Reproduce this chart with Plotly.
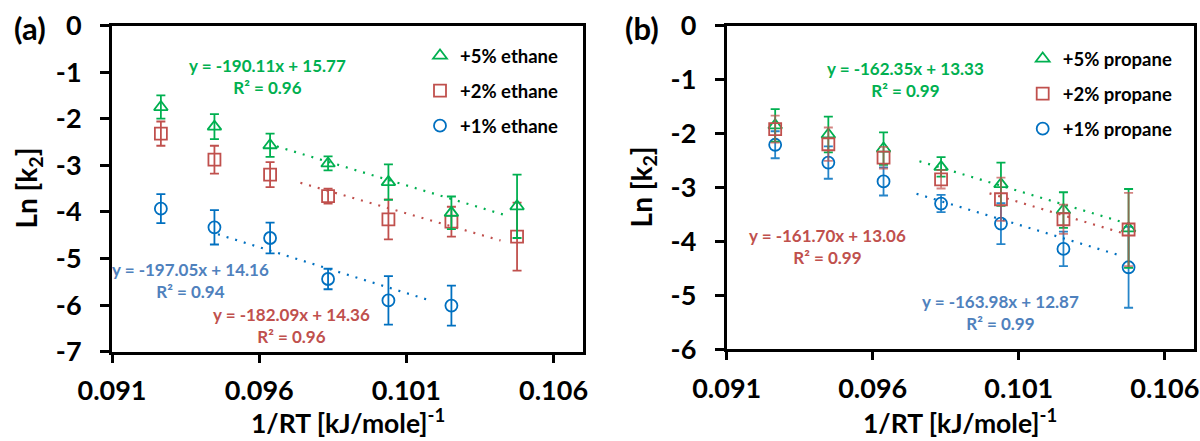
import plotly.graph_objects as go

FONT = "Lato, 'Open Sans', 'DejaVu Sans', sans-serif"
W, H = 1200, 441

GREEN = "#00B050"
RED = "#C0504D"
BLUE = "#0070C0"
BLUE_TXT = "#4F81BD"

# ---------------- data ----------------
inv_RT = [0.09266, 0.09448, 0.09637, 0.09834, 0.10039, 0.10253, 0.10476]

# panel (a) ethane
eth_labels = ["+5% ethane", "+2% ethane", "+1% ethane"]
eth5 = [-1.75, -2.17, -2.57, -2.96, -3.36, -4.02, -3.88]
eth5_err = [0.25, 0.27, 0.25, 0.15, 0.38, 0.35, 0.68]
eth2 = [-2.32, -2.88, -3.20, -3.66, -4.16, -4.21, -4.53]
eth2_err = [0.26, 0.30, 0.27, 0.16, 0.43, 0.32, 0.73]
eth1 = [-3.93, -4.33, -4.56, -5.44, -5.90, -6.01]
eth1_err = [0.31, 0.37, 0.33, 0.22, 0.52, 0.43]
eth_slope = [-190.11, -182.09, -197.05]
eth_icpt = [15.77, 14.36, 14.16]
eth_r2 = [0.96, 0.96, 0.94]
eth_fit_x = [[0.0966, 0.1043], [0.0974, 0.1042], [0.0946, 0.1018]]

# panel (b) propane
prop_labels = ["+5% propane", "+2% propane", "+1% propane"]
prop5 = [-1.85, -2.02, -2.28, -2.62, -2.94, -3.42, -3.76]
prop5_err = [0.30, 0.33, 0.30, 0.18, 0.40, 0.33, 0.73]
prop2 = [-1.92, -2.20, -2.45, -2.85, -3.22, -3.59, -3.78]
prop2_err = [0.25, 0.31, 0.20, 0.17, 0.40, 0.27, 0.68]
prop1 = [-2.21, -2.54, -2.89, -3.30, -3.67, -4.14, -4.48]
prop1_err = [0.25, 0.30, 0.26, 0.16, 0.38, 0.32, 0.75]
prop_slope = [-162.35, -161.70, -163.98]
prop_icpt = [13.33, 13.06, 12.87]
prop_r2 = [0.99, 0.99, 0.99]
prop_fit_x = [[0.0976, 0.1046], [0.1000, 0.1045], [0.0975, 0.1044]]

x_tickvals = [0.091, 0.096, 0.101, 0.106]
x_ticktext = ["0.091", "0.096", "0.101", "0.106"]
ya_tickvals = [0, -1, -2, -3, -4, -5, -6, -7]
ya_ticktext = ["0", "-1", "-2", "-3", "-4", "-5", "-6", "-7"]
yb_tickvals = [0, -1, -2, -3, -4, -5, -6]
yb_ticktext = ["0", "-1", "-2", "-3", "-4", "-5", "-6"]

# ---------------- helpers ----------------
def px(x):
    return x / W

def py(y):
    return 1 - y / H

fig = go.Figure()


def add_fit(xr, slope, icpt, color, xa, ya):
    fig.add_trace(go.Scatter(
        x=xr, y=[slope * v + icpt for v in xr], mode="lines",
        line=dict(color=color, width=2.2, dash="2px,7px"),
        showlegend=False, hoverinfo="skip", xaxis=xa, yaxis=ya))


def add_series(y, err, name, symbol, color, err_color, xa, ya, legend, rank):
    fig.add_trace(go.Scatter(
        x=inv_RT[:len(y)], y=y, mode="markers", name=name,
        marker=dict(symbol=symbol, size=12, color=color,
                    line=dict(color=color, width=1.8)),
        error_y=dict(type="data", array=err, visible=True, color=err_color,
                     thickness=1.8, width=4.5),
        xaxis=xa, yaxis=ya, legend=legend, legendgroup=name + legend,
        legendrank=rank))


# panel (a)
fit_cols = [GREEN, RED, BLUE]
for i in range(3):
    add_fit(eth_fit_x[i], eth_slope[i], eth_icpt[i], fit_cols[i], "x", "y")
add_series(eth1, eth1_err, eth_labels[2], "circle-open", BLUE, BLUE, "x", "y", "legend", 3)
add_series(eth2, eth2_err, eth_labels[1], "square-open", RED, RED, "x", "y", "legend", 2)
add_series(eth5, eth5_err, eth_labels[0], "triangle-up-open", GREEN, GREEN, "x", "y", "legend", 1)

# panel (b)
for i in range(3):
    add_fit(prop_fit_x[i], prop_slope[i], prop_icpt[i], fit_cols[i], "x2", "y2")
add_series(prop1, prop1_err, prop_labels[2], "circle-open", BLUE, "rgba(0,112,192,0.85)", "x2", "y2", "legend2", 3)
add_series(prop5, prop5_err, prop_labels[0], "triangle-up-open", GREEN, GREEN, "x2", "y2", "legend2", 1)
add_series(prop2, prop2_err, prop_labels[1], "square-open", RED, "rgba(192,80,77,0.7)", "x2", "y2", "legend2", 2)

# ---------------- axes ----------------
tickfont = dict(family=FONT, size=27, color="black", weight="bold")
common = dict(showline=True, linewidth=3, linecolor="black", mirror=True,
              ticks="outside", tickwidth=3, tickcolor="black", showgrid=False,
              zeroline=False, tickfont=tickfont, automargin=False,
              tickmode="array")

fig.update_layout(
    xaxis=dict(domain=[px(112), px(583)], range=[0.091, 0.107], anchor="y",
               tickvals=x_tickvals, ticktext=x_ticktext, ticklen=8,
               ticklabelstandoff=5, **common),
    yaxis=dict(domain=[py(351.7), py(25.5)], range=[-7, 0], anchor="x",
               tickvals=ya_tickvals, ticktext=ya_ticktext, ticklen=9,
               ticklabelstandoff=13, **common),
    xaxis2=dict(domain=[px(726.7), px(1194)], range=[0.091, 0.107], anchor="y2",
                tickvals=x_tickvals, ticktext=x_ticktext, ticklen=8,
                ticklabelstandoff=5, **common),
    yaxis2=dict(domain=[py(349.3), py(25.5)], range=[-6, 0], anchor="x2",
                tickvals=yb_tickvals, ticktext=yb_ticktext, ticklen=9,
                ticklabelstandoff=13, **common),
)

legend_font = dict(family=FONT, size=18.5, color="black", weight="bold")
fig.update_layout(
    legend=dict(x=px(420), y=py(37), xanchor="left", yanchor="top",
                font=legend_font, tracegroupgap=8, bgcolor="rgba(0,0,0,0)",
                borderwidth=0),
    legend2=dict(x=px(1022.7), y=py(40), xanchor="left", yanchor="top",
                 font=legend_font, tracegroupgap=8, bgcolor="rgba(0,0,0,0)",
                 borderwidth=0),
)

# ---------------- annotations ----------------
ann = []

def text(x, y, s, size, color="black", angle=0):
    ann.append(dict(x=px(x), y=py(y), xref="paper", yref="paper", text=s,
                    showarrow=False, xanchor="center", yanchor="middle",
                    textangle=angle,
                    font=dict(family=FONT, size=size, color=color, weight="bold")))

eq_cols = [GREEN, RED, BLUE_TXT]
eq_pos_a = [(267, 76.5), (291.7, 325.5), (190.7, 280.7)]
eq_pos_b = [(905.5, 79.7), (827.5, 246.3), (1001, 312.2)]
for i in range(3):
    s = f"y = {eth_slope[i]:.2f}x + {eth_icpt[i]:.2f}<br>R² = {eth_r2[i]:.2f}"
    text(eq_pos_a[i][0], eq_pos_a[i][1], s, 17, eq_cols[i])
    s = f"y = {prop_slope[i]:.2f}x + {prop_icpt[i]:.2f}<br>R² = {prop_r2[i]:.2f}"
    text(eq_pos_b[i][0], eq_pos_b[i][1], s, 17, eq_cols[i])

text(30, 28, "(a)", 31)
text(642, 28, "(b)", 31)
text(347.5, 421, "1/RT [kJ/mole]<sup>-1</sup>", 26.5)
text(960, 421, "1/RT [kJ/mole]<sup>-1</sup>", 26.5)
text(28, 188.6, "Ln [k<sub>2</sub>]", 28, angle=-90)
text(643, 187.4, "Ln [k<sub>2</sub>]", 28, angle=-90)

fig.update_layout(
    annotations=ann,
    width=W, height=H,
    margin=dict(l=0, r=0, t=0, b=0),
    paper_bgcolor="white", plot_bgcolor="white",
    font=dict(family=FONT, color="black"),
    showlegend=True,
)

fig.write_html("out.html")
